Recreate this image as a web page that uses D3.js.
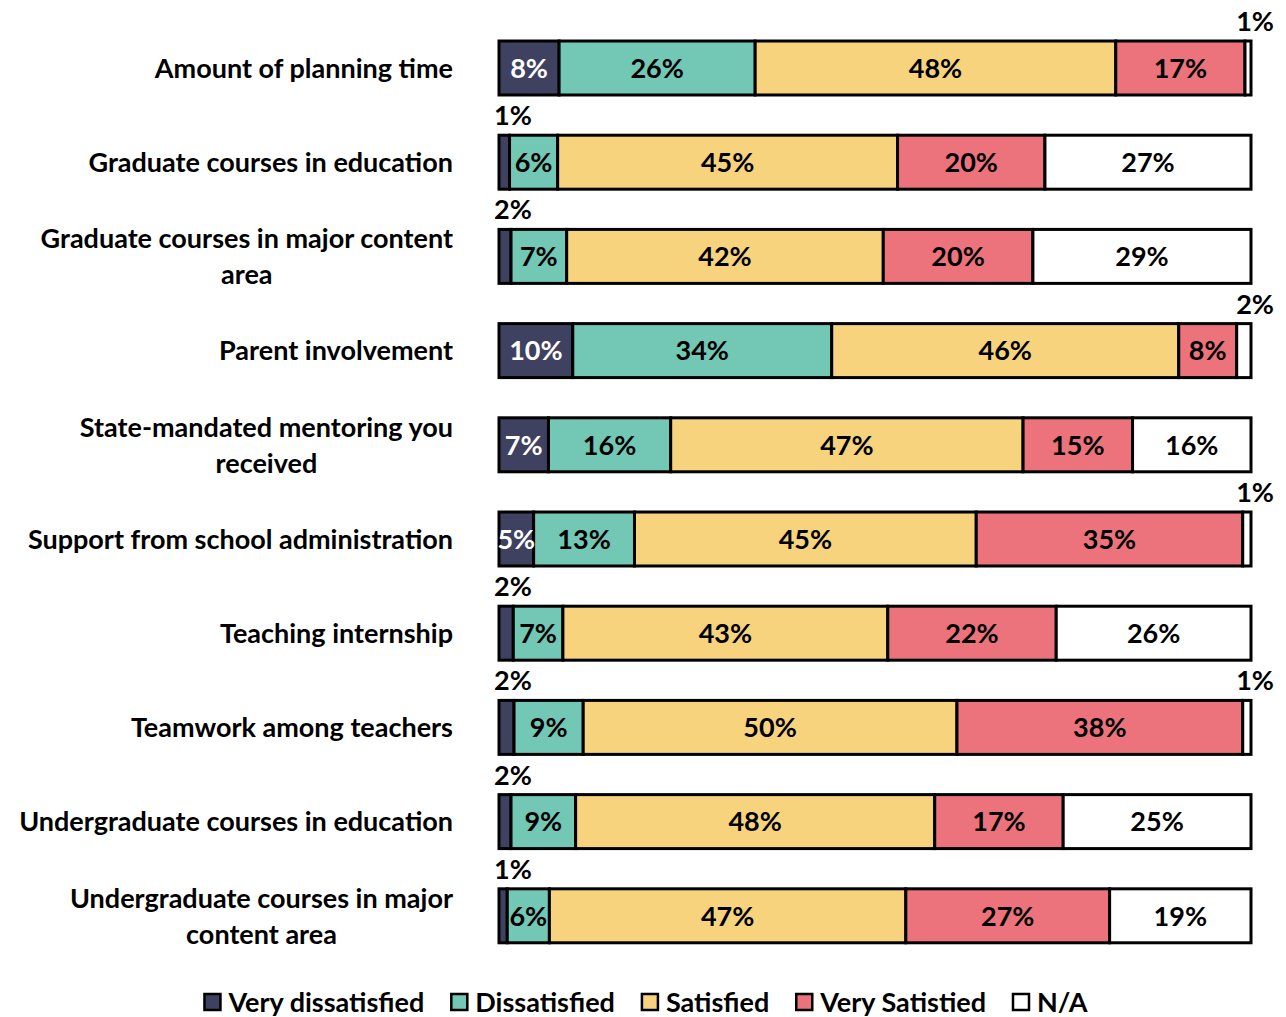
<!DOCTYPE html>
<html>
<head>
<meta charset="utf-8">
<script src="https://cdn.jsdelivr.net/npm/d3@7"></script>
<style>
  html, body { margin: 0; padding: 0; background: #fff; }
  svg { display: block; }
  text { font-family: Lato, "Open Sans", sans-serif; font-weight: 700; }
</style>
</head>
<body>
<svg id="chart" width="1286" height="1017"></svg>
<script>
const categories = [
  "Amount of planning time",
  "Graduate courses in education",
  "Graduate courses in major content|area",
  "Parent involvement",
  "State-mandated mentoring you|received",
  "Support from school administration",
  "Teaching internship",
  "Teamwork among teachers",
  "Undergraduate courses in education",
  "Undergraduate courses in major|content area"
];
const seriesNames = ["Very dissatisfied", "Dissatisfied", "Satisfied", "Very Satistied", "N/A"];
// percentages (labels are the rounded values)
const veryDissatisfied = [8.0, 1.4, 1.6, 9.8, 6.6, 4.6, 1.9, 2.0, 1.6, 1.1];
const dissatisfied     = [26.1, 6.4, 7.4, 34.4, 16.3, 13.4, 6.6, 9.2, 8.6, 5.6];
const satisfied        = [48.0, 45.2, 42.1, 46.1, 47.0, 45.4, 43.2, 49.7, 47.8, 47.4];
const verySatisfied    = [17.2, 19.6, 19.9, 7.7, 14.6, 35.4, 22.4, 38.0, 17.1, 27.1];
const notApplicable    = [0.8, 27.4, 29.0, 1.9, 15.8, 1.1, 25.9, 1.1, 25.0, 18.8];
const seriesColors = ["#3f4160", "#72c7b5", "#f7d37e", "#ec737b", "#ffffff"];
const labelColors  = ["#ffffff", "#000000", "#000000", "#000000", "#000000"];

const seriesValues = [veryDissatisfied, dissatisfied, satisfied, verySatisfied, notApplicable];

const FS = 27;
const svg = d3.select("#chart");
const plotLeft = 499, plotRight = 1251;

const y = d3.scaleBand()
  .domain(categories)
  .range([20.9, 962.9])
  .paddingInner(0.427)
  .paddingOuter(0.2135);

const rows = categories.map((c, i) => {
  const vals = seriesValues.map(s => s[i]);
  const total = d3.sum(vals);
  const x = d3.scaleLinear().domain([0, total]).range([plotLeft, plotRight]);
  let acc = 0;
  const segs = vals.map((v, k) => {
    const s = { k, v, x0: x(acc), x1: x(acc + v) };
    acc += v;
    return s;
  });
  return { c, segs };
});

const g = svg.append("g");

rows.forEach(r => {
  const y0 = y(r.c), bh = y.bandwidth();
  const rg = g.append("g");
  r.segs.forEach(s => {
    rg.append("rect")
      .attr("x", s.x0).attr("y", y0)
      .attr("width", Math.max(0, s.x1 - s.x0)).attr("height", bh)
      .attr("fill", seriesColors[s.k])
      .attr("stroke", "#000").attr("stroke-width", 3);
  });
  r.segs.forEach((s, idx) => {
    const label = Math.round(s.v) + "%";
    if (s.v < 2.5) {
      const isLast = idx === r.segs.length - 1;
      rg.append("text")
        .attr("x", isLast ? plotRight + 23 : plotLeft - 5)
        .attr("y", y0 - 10)
        .attr("text-anchor", isLast ? "end" : "start")
        .attr("font-size", FS)
        .attr("fill", "#000")
        .text(label);
    } else {
      rg.append("text")
        .attr("x", (s.x0 + s.x1) / 2)
        .attr("y", y0 + bh / 2)
        .attr("dy", "0.36em")
        .attr("text-anchor", "middle")
        .attr("font-size", FS)
        .attr("fill", labelColors[s.k])
        .text(label);
    }
  });
});

// category labels
const labelRight = 453;
categories.forEach(c => {
  const lines = c.split("|");
  const cy = y(c) + y.bandwidth() / 2;
  const lg = g.append("g");
  const texts = lines.map((ln, j) => lg.append("text")
    .attr("font-size", FS)
    .attr("fill", "#000")
    .attr("text-anchor", "middle")
    .attr("y", cy + (j - (lines.length - 1) / 2) * 36)
    .attr("dy", "0.36em")
    .text(ln));
  const maxW = d3.max(texts, t => t.node().getComputedTextLength());
  texts.forEach(t => t.attr("x", labelRight - maxW / 2));
});

// legend
const lg = svg.append("g");
let lx = 0;
seriesNames.forEach((n, k) => {
  const it = lg.append("g").attr("transform", `translate(${lx},0)`);
  it.append("rect").attr("x", 0).attr("y", -8).attr("width", 16).attr("height", 16)
    .attr("fill", seriesColors[k]).attr("stroke", "#000").attr("stroke-width", 2.5);
  const t = it.append("text").attr("x", 24).attr("y", 0).attr("dy", "0.36em")
    .attr("font-size", FS).attr("fill", "#000").text(n);
  const w = 24 + t.node().getComputedTextLength();
  lx += w + 27;
});
const totalW = lx - 27;
lg.attr("transform", `translate(${646 - totalW / 2},1002)`);
</script>
</body>
</html>
